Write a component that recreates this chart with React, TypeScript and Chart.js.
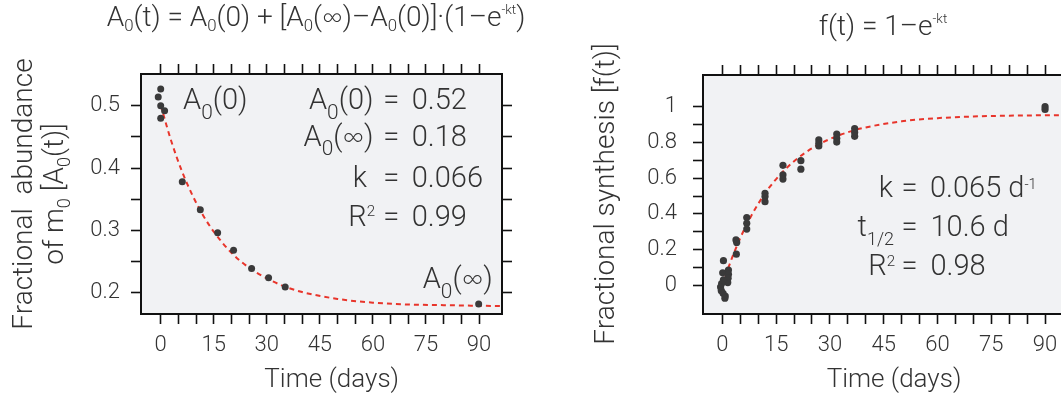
import React, { useEffect, useRef } from 'react';
import { Chart, registerables } from 'chart.js';

Chart.register(...registerables);

const FONT = "Roboto, 'Noto Sans', 'DejaVu Sans', sans-serif";
const ALT_FONT = "Lato, Roboto, sans-serif";
const TEXT = '#333333';
const DOT = '#3a3a3a';
const RED = '#e8352b';
const PANEL = '#f1f2f4';
const AXIS = '#111111';

// ---- Left panel: decay of A0(t) ----
const decayDays = [-0.7, 0, 0, 0, 1.1, 6.1, 11.2, 16.1, 20.6, 25.7, 30.5, 35.2, 89.9];
const decayAbundance = [0.514, 0.527, 0.5, 0.48, 0.492, 0.378, 0.333, 0.296, 0.268, 0.239, 0.224, 0.209, 0.182];
const decayFitDays = [0, 0.5, 3, 6, 9, 12, 15, 20, 25, 30, 35, 40, 50, 60, 70, 80, 90, 96.5];
const decayFitValues = [0.501, 0.491, 0.443, 0.395, 0.356, 0.324, 0.298, 0.264, 0.24, 0.223, 0.21, 0.201, 0.19, 0.184, 0.181, 0.18, 0.179, 0.1785];

// ---- Right panel: fractional synthesis f(t) ----
const synthDays = [
  0.3, 0.1, 1.7, 1.7, 1.6, 1.5, 0.3, -0.2, -0.5, -0.3, 0.2, 0.8, 0.7,
  3.9, 3.8, 4.0,
  6.8, 6.8, 6.8,
  11.9, 11.9, 11.9,
  16.9, 16.9, 16.9,
  21.9, 21.9,
  26.9, 26.9, 26.9,
  31.9, 31.9, 31.9,
  36.9, 36.9, 36.9,
  90, 90,
];
const synthFraction = [
  0.138, 0.07, 0.085, 0.062, 0.04, 0.015, 0.03, 0.01, -0.01, -0.03, -0.045, -0.06, -0.072,
  0.174, 0.254, 0.24,
  0.379, 0.347, 0.315,
  0.515, 0.497, 0.468,
  0.672, 0.618, 0.595,
  0.698, 0.65,
  0.814, 0.795, 0.78,
  0.847, 0.823, 0.802,
  0.877, 0.855, 0.834,
  1.0, 0.985,
];
const synthFitDays = [0, 1, 2, 3, 5, 7, 10, 13, 16, 20, 25, 30, 35, 40, 50, 60, 70, 80, 90, 96.5];
const synthFitValues = [0, 0.06, 0.116, 0.169, 0.265, 0.349, 0.456, 0.545, 0.617, 0.695, 0.767, 0.819, 0.857, 0.884, 0.918, 0.936, 0.945, 0.95, 0.952, 0.953];

// ---- Ticks ----
const dayTicks = [0, 5, 10, 15, 20, 25, 30, 35, 40, 45, 50, 55, 60, 65, 70, 75, 80, 85, 90];
const dayLabels = ['0', '', '', '15', '', '', '30', '', '', '45', '', '', '60', '', '', '75', '', '', '90'];
const decayTicks = [0.2, 0.25, 0.3, 0.35, 0.4, 0.45, 0.5];
const decayLabels = ['0.2', '', '0.3', '', '0.4', '', '0.5'];
const synthTicks = [0, 0.1, 0.2, 0.3, 0.4, 0.5, 0.6, 0.7, 0.8, 0.9, 1.0];
const synthLabels = ['0', '', '0.2', '', '0.4', '', '0.6', '', '0.8', '', '1'];

type Seg = { t: string; s?: 'sub' | 'sup'; alt?: boolean };
type RichOpts = { sub?: number; subDrop?: number; sup?: number; supRise?: number };

const fontStr = (size: number, alt?: boolean) => `300 ${size}px ${alt ? ALT_FONT : FONT}`;

function segSize(g: Seg, size: number, o: RichOpts) {
  if (g.s === 'sub') return size * (o.sub ?? 0.7);
  if (g.s === 'sup') return size * (o.sup ?? 0.5);
  return size;
}

function richWidth(ctx: CanvasRenderingContext2D, segs: Seg[], size: number, o: RichOpts) {
  let w = 0;
  for (const g of segs) {
    ctx.font = fontStr(segSize(g, size, o), g.alt);
    w += ctx.measureText(g.t).width;
  }
  return w;
}

function drawRich(
  ctx: CanvasRenderingContext2D,
  segs: Seg[],
  x: number,
  y: number,
  size: number,
  align: 'left' | 'right' | 'center',
  o: RichOpts = {}
) {
  const w = richWidth(ctx, segs, size, o);
  let cx = align === 'left' ? x : align === 'right' ? x - w : x - w / 2;
  ctx.textBaseline = 'alphabetic';
  ctx.textAlign = 'left';
  ctx.fillStyle = TEXT;
  for (const g of segs) {
    const sz = segSize(g, size, o);
    ctx.font = fontStr(sz, g.alt);
    const dy = g.s === 'sub' ? size * (o.subDrop ?? 0.3) : g.s === 'sup' ? -size * (o.supRise ?? 0.32) : 0;
    ctx.fillText(g.t, cx, y + dy);
    cx += ctx.measureText(g.t).width;
  }
}

type TextItem = {
  segs: Seg[];
  x: number;
  y: number;
  size: number;
  align: 'left' | 'right' | 'center';
  rotate?: boolean;
  o?: RichOpts;
};

const T = (t: string): Seg => ({ t });
const SUB = (t: string): Seg => ({ t, s: 'sub' });
const SUP = (t: string): Seg => ({ t, s: 'sup' });
const INF: Seg = { t: '∞', alt: true };

const titleOpts: RichOpts = { sub: 0.6, subDrop: 0.2, sup: 0.48, supRise: 0.42 };
const annOpts: RichOpts = { sub: 0.72, subDrop: 0.34, sup: 0.52, supRise: 0.32 };
const axOpts: RichOpts = { sub: 0.65, subDrop: 0.25 };

const leftTexts: TextItem[] = [
  {
    segs: [T('A'), SUB('0'), T('(t) = A'), SUB('0'), T('(0) + [A'), SUB('0'), T('('), INF, T(')–A'), SUB('0'), T('(0)]·(1–e'), SUP('-kt'), T(')')],
    x: 316, y: 25.5, size: 28, align: 'center', o: titleOpts,
  },
  { segs: [T('Fractional  abundance')], x: 32, y: 194, size: 28, align: 'center', rotate: true },
  { segs: [T('of m'), SUB('0'), T(' [A'), SUB('0'), T('(t)]')], x: 63, y: 194, size: 28, align: 'center', rotate: true, o: axOpts },
  { segs: [T('Time (days)')], x: 331.7, y: 386.7, size: 26, align: 'center' },
  { segs: [T('A'), SUB('0'), T('(0)')], x: 183, y: 109.3, size: 29, align: 'left', o: annOpts },
  { segs: [T('A'), SUB('0'), T('(0)')], x: 373.5, y: 109.3, size: 29, align: 'right', o: annOpts },
  { segs: [T('A'), SUB('0'), T('('), INF, T(')')], x: 373.5, y: 145.5, size: 29, align: 'right', o: annOpts },
  { segs: [T('k')], x: 367, y: 186.7, size: 29, align: 'right', o: annOpts },
  { segs: [T('R'), SUP('2')], x: 375, y: 225.7, size: 29, align: 'right', o: annOpts },
  { segs: [T('=')], x: 391.3, y: 109.3, size: 29, align: 'center' },
  { segs: [T('=')], x: 391.3, y: 145.5, size: 29, align: 'center' },
  { segs: [T('=')], x: 391.3, y: 186.7, size: 29, align: 'center' },
  { segs: [T('=')], x: 391.3, y: 225.7, size: 29, align: 'center' },
  { segs: [T('0.52')], x: 411.7, y: 109.3, size: 29, align: 'left' },
  { segs: [T('0.18')], x: 411.7, y: 145.5, size: 29, align: 'left' },
  { segs: [T('0.066')], x: 411.7, y: 186.7, size: 29, align: 'left' },
  { segs: [T('0.99')], x: 411.7, y: 225.7, size: 29, align: 'left' },
  { segs: [T('A'), SUB('0'), T('('), INF, T(')')], x: 422.7, y: 288.3, size: 29, align: 'left', o: annOpts },
];

const rightTexts: TextItem[] = [
  { segs: [T('f(t) = 1–e'), SUP('-kt')], x: 883, y: 35, size: 28, align: 'center', o: titleOpts },
  { segs: [T('Fractional synthesis [f(t)]')], x: 614, y: 194, size: 28, align: 'center', rotate: true },
  { segs: [T('Time (days)')], x: 894, y: 386.7, size: 26, align: 'center' },
  { segs: [T('k')], x: 893, y: 197.3, size: 29, align: 'right', o: annOpts },
  { segs: [T('t'), SUB('1/2')], x: 894, y: 236, size: 29, align: 'right', o: { sub: 0.62, subDrop: 0.3 } },
  { segs: [T('R'), SUP('2')], x: 895, y: 275, size: 29, align: 'right', o: annOpts },
  { segs: [T('=')], x: 909.5, y: 197.3, size: 29, align: 'center' },
  { segs: [T('=')], x: 909.5, y: 236, size: 29, align: 'center' },
  { segs: [T('=')], x: 909.5, y: 275, size: 29, align: 'center' },
  { segs: [T('0.065 d'), SUP('-1')], x: 930, y: 197.3, size: 29, align: 'left', o: { sup: 0.5, supRise: 0.28 } },
  { segs: [T('10.6 d')], x: 930.5, y: 236, size: 29, align: 'left' },
  { segs: [T('0.98')], x: 930.5, y: 275, size: 29, align: 'left' },
];

function makeTextPlugin(items: TextItem[], offsetX: number) {
  return {
    id: 'richText' + offsetX,
    beforeDraw(chart: any) {
      const { ctx, chartArea } = chart;
      ctx.save();
      ctx.fillStyle = PANEL;
      ctx.fillRect(chartArea.left, chartArea.top, chartArea.right - chartArea.left, chartArea.bottom - chartArea.top);
      ctx.restore();
    },
    afterDraw(chart: any) {
      const ctx: CanvasRenderingContext2D = chart.ctx;
      for (const it of items) {
        ctx.save();
        if (it.rotate) {
          ctx.translate(it.x - offsetX, it.y);
          ctx.rotate(-Math.PI / 2);
          drawRich(ctx, it.segs, 0, 0, it.size, it.align, it.o);
        } else {
          drawRich(ctx, it.segs, it.x - offsetX, it.y, it.size, it.align, it.o);
        }
        ctx.restore();
      }
    },
  };
}

function axis(
  pos: 'left' | 'right' | 'top' | 'bottom',
  min: number,
  max: number,
  values: number[],
  labels: string[],
  size: number,
  showLabels: boolean,
  padding: number
) {
  const horizontal = pos === 'top' || pos === 'bottom';
  return {
    type: 'linear',
    axis: horizontal ? 'x' : 'y',
    position: pos,
    min,
    max,
    afterBuildTicks: (s: any) => {
      s.ticks = values.map((v) => ({ value: v }));
    },
    afterFit: (s: any) => {
      if (horizontal) s.height = size;
      else s.width = size;
    },
    grid: {
      display: true,
      drawOnChartArea: false,
      drawTicks: true,
      tickLength: 10,
      tickColor: AXIS,
      tickWidth: 1.6,
      color: AXIS,
    },
    border: { display: true, color: AXIS, width: 2 },
    ticks: {
      display: showLabels,
      autoSkip: false,
      maxRotation: 0,
      minRotation: 0,
      padding,
      color: TEXT,
      font: { family: FONT, size: 22, weight: '300' },
      callback: (_v: any, i: number) => labels[i],
    },
    title: { display: false },
  };
}

function buildChart(
  canvas: HTMLCanvasElement,
  px: number[],
  py: number[],
  fx: number[],
  fy: number[],
  xMin: number,
  xMax: number,
  yMin: number,
  yMax: number,
  yVals: number[],
  yLabels: string[],
  sizes: { left: number; right: number; top: number; bottom: number },
  yPad: number,
  texts: TextItem[],
  offsetX: number,
  radius: number
) {
  return new Chart(canvas, {
    type: 'scatter',
    data: {
      datasets: [
        {
          data: px.map((x, i) => ({ x, y: py[i] })),
          backgroundColor: DOT,
          borderWidth: 0,
          pointRadius: radius,
          pointHoverRadius: radius,
          order: 0,
          xAxisID: 'x',
          yAxisID: 'y',
        } as any,
        {
          data: fx.map((x, i) => ({ x, y: fy[i] })),
          showLine: true,
          borderColor: RED,
          borderWidth: 2,
          borderDash: [5, 4],
          pointRadius: 0,
          cubicInterpolationMode: 'monotone',
          fill: false,
          order: 1,
          xAxisID: 'x',
          yAxisID: 'y',
        } as any,
      ],
    },
    options: {
      animation: false,
      responsive: false,
      maintainAspectRatio: false,
      devicePixelRatio: 1,
      layout: { padding: 0 },
      events: [],
      plugins: { legend: { display: false }, tooltip: { enabled: false }, title: { display: false } },
      scales: {
        x: axis('bottom', xMin, xMax, dayTicks, dayLabels, sizes.bottom, true, 8),
        x2: axis('top', xMin, xMax, dayTicks, dayLabels, sizes.top, false, 0),
        y: axis('left', yMin, yMax, yVals, yLabels, sizes.left, true, yPad),
        y2: axis('right', yMin, yMax, yVals, yLabels, sizes.right, false, 0),
      } as any,
    },
    plugins: [makeTextPlugin(texts, offsetX)],
  } as any);
}

export default function App() {
  const leftRef = useRef<HTMLCanvasElement>(null);
  const rightRef = useRef<HTMLCanvasElement>(null);

  useEffect(() => {
    const left = buildChart(
      leftRef.current!,
      decayDays,
      decayAbundance,
      decayFitDays,
      decayFitValues,
      -5.57,
      96.5,
      0.1658,
      0.5509,
      decayTicks,
      decayLabels,
      { left: 141, right: 28, top: 74, bottom: 84 },
      11,
      leftTexts,
      0,
      3.5
    );
    const right = buildChart(
      rightRef.current!,
      synthDays,
      synthFraction,
      synthFitDays,
      synthFitValues,
      -5.4,
      96.4,
      -0.1607,
      1.1775,
      synthTicks,
      synthLabels,
      { left: 163, right: 32, top: 75, bottom: 84 },
      16,
      rightTexts,
      540,
      3.6
    );
    return () => {
      left.destroy();
      right.destroy();
    };
  }, []);

  return (
    <div
      style={{
        position: 'fixed',
        left: 0,
        top: 0,
        width: 1061,
        height: 398,
        overflow: 'hidden',
        background: '#ffffff',
      }}
    >
      <canvas ref={leftRef} width={530} height={398} style={{ position: 'absolute', left: 0, top: 0, width: 530, height: 398 }} />
      <canvas ref={rightRef} width={560} height={398} style={{ position: 'absolute', left: 540, top: 0, width: 560, height: 398 }} />
    </div>
  );
}
